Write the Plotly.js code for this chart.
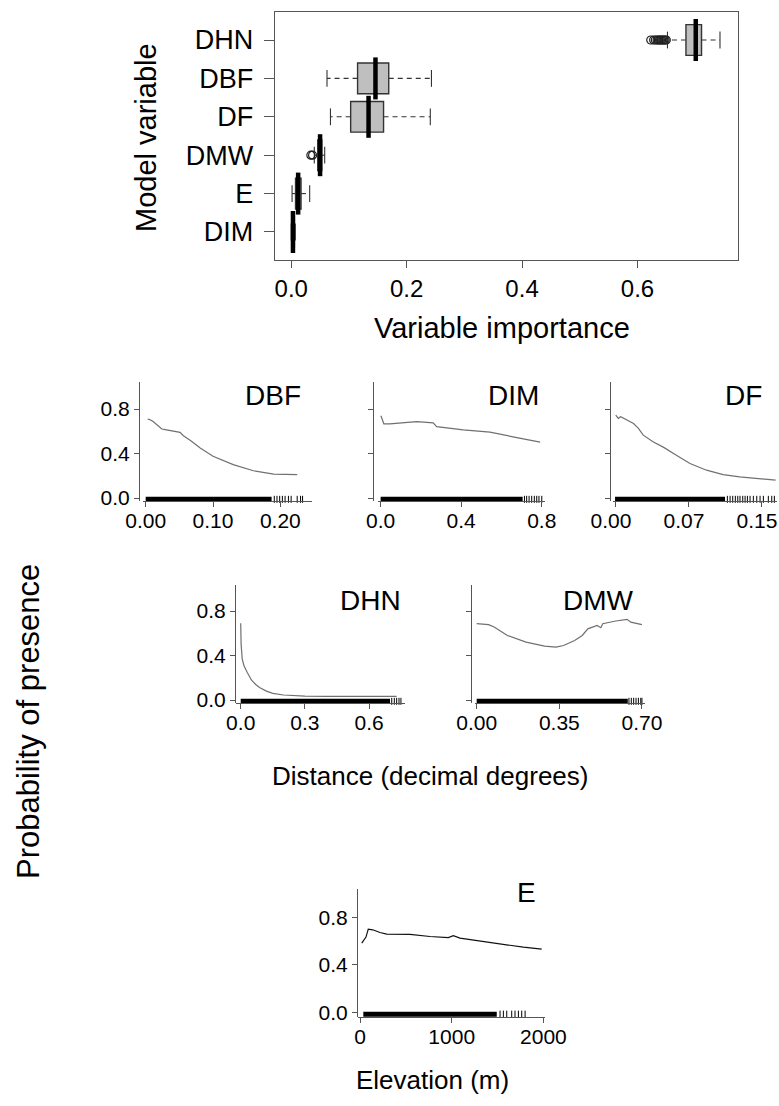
<!DOCTYPE html>
<html>
<head>
<meta charset="utf-8">
<script src="https://cdn.plot.ly/plotly-3.0.1.min.js"></script>
<style>html,body{margin:0;padding:0;background:#fff;}#chart{width:779px;height:1106px;}</style>
</head>
<body>
<div id="chart"></div>
<script>
// ---------- Variable importance (box plot) ----------
const boxVars = ['DHN', 'DBF', 'DF', 'DMW', 'E', 'DIM'];
const boxQ1     = [0.684, 0.115, 0.103, 0.046, 0.0075, 0.0010];
const boxMedian = [0.701, 0.146, 0.134, 0.050, 0.0120, 0.0030];
const boxQ3     = [0.711, 0.169, 0.160, 0.053, 0.0170, 0.0055];
const boxLowW   = [0.652, 0.062, 0.068, 0.040, 0.0015, 0.0000];
const boxHighW  = [0.743, 0.243, 0.241, 0.058, 0.0320, 0.0070];
const dhnOutliers = [0.623, 0.628, 0.631, 0.634, 0.636, 0.638, 0.640, 0.642, 0.644, 0.646, 0.648, 0.650];
const dmwOutliers = [0.034, 0.037];
const boxTicks = [0, 0.2, 0.4, 0.6];
const boxTickText = ['0.0', '0.2', '0.4', '0.6'];

// ---------- Partial dependence curves ----------
const dbfX = [0.003, 0.006, 0.011, 0.024, 0.031, 0.051, 0.056, 0.066, 0.081, 0.100, 0.130, 0.160, 0.190, 0.225];
const dbfY = [0.71, 0.705, 0.687, 0.62, 0.612, 0.59, 0.56, 0.52, 0.45, 0.375, 0.30, 0.245, 0.215, 0.21];
const dbfRugDense = [0.0, 0.187];
const dbfRugSparse = [0.191, 0.195, 0.199, 0.203, 0.207, 0.212, 0.216, 0.225, 0.230, 0.233];

const dimX = [0.0015, 0.010, 0.016, 0.046, 0.10, 0.179, 0.261, 0.278, 0.41, 0.543, 0.676, 0.792];
const dimY = [0.74, 0.687, 0.667, 0.667, 0.675, 0.687, 0.675, 0.642, 0.613, 0.592, 0.543, 0.502];
const dimRugDense = [0.0, 0.705];
const dimRugSparse = [0.714, 0.725, 0.737, 0.750, 0.763, 0.775, 0.786, 0.800];

const dfX = [0.0007, 0.0034, 0.0058, 0.012, 0.019, 0.024, 0.029, 0.039, 0.050, 0.063, 0.077, 0.094, 0.111, 0.128, 0.146, 0.165];
const dfY = [0.746, 0.716, 0.73, 0.70, 0.67, 0.626, 0.565, 0.505, 0.455, 0.385, 0.31, 0.25, 0.21, 0.19, 0.175, 0.16];
const dfRugDense = [0.0, 0.113];
const dfRugSparse = [0.1154, 0.1182, 0.1209, 0.1236, 0.1261, 0.1284, 0.1312, 0.1336, 0.136, 0.1387, 0.1421, 0.1456, 0.149, 0.1524, 0.1575, 0.161, 0.1637];

const dhnX = [0.0, 0.002, 0.007, 0.015, 0.030, 0.050, 0.070, 0.090, 0.120, 0.150, 0.200, 0.250, 0.300, 0.400, 0.500, 0.600, 0.729];
const dhnY = [0.69, 0.50, 0.37, 0.31, 0.25, 0.18, 0.14, 0.11, 0.08, 0.06, 0.045, 0.038, 0.034, 0.033, 0.032, 0.032, 0.032];
const dhnRugDense = [0.0, 0.698];
const dhnRugSparse = [0.706, 0.718, 0.729, 0.740, 0.749];

const dmwX = [0.0, 0.050, 0.074, 0.130, 0.209, 0.288, 0.336, 0.368, 0.415, 0.447, 0.471, 0.510, 0.526, 0.534, 0.589, 0.637, 0.653, 0.700];
const dmwY = [0.686, 0.677, 0.656, 0.58, 0.52, 0.484, 0.475, 0.49, 0.535, 0.58, 0.64, 0.67, 0.65, 0.686, 0.71, 0.725, 0.70, 0.677];
const dmwRugDense = [0.0, 0.640];
const dmwRugSparse = [0.645, 0.655, 0.665, 0.675, 0.685, 0.695, 0.700];

const eX = [19, 65, 90, 138, 218, 291, 545, 763, 963, 1017, 1090, 1418, 1781, 1981];
const eY = [0.583, 0.634, 0.70, 0.695, 0.672, 0.659, 0.656, 0.639, 0.63, 0.645, 0.625, 0.588, 0.549, 0.533];
const eRugDense = [36, 1491];
const eRugSparse = [1527, 1563, 1600, 1654, 1690, 1727, 1763, 1800];

const probTicks = [0, 0.4, 0.8];
const probTickText = ['0.0', '0.4', '0.8'];

// ---------- Layout helpers ----------
const W = 779, H = 1106;
const FAM = 'Liberation Sans, Arial, Helvetica, sans-serif';
const fx = p => p / W;
const fy = p => 1 - p / H;
const AXC = '#555';

const traces = [];
const layout = {
  width: W, height: H,
  margin: {l: 0, r: 0, t: 0, b: 0},
  paper_bgcolor: '#fff', plot_bgcolor: 'rgba(0,0,0,0)',
  showlegend: false,
  font: {family: FAM, color: '#000'},
  annotations: []
};

// Box plot
const boxPos = boxVars.map((_, i) => boxVars.length - 1 - i);
traces.push({
  type: 'box', orientation: 'h', xaxis: 'x', yaxis: 'y',
  y: boxPos, q1: boxQ1, median: boxMedian, q3: boxQ3,
  lowerfence: boxQ1, upperfence: boxQ3,
  width: 0.8, whiskerwidth: 0, boxpoints: false,
  fillcolor: '#bfbfbf', line: {color: '#333', width: 1.4},
  hoverinfo: 'skip'
});
const wx = [], wy = [];
boxPos.forEach((p, i) => {
  wx.push(boxQ1[i], boxLowW[i], null, boxQ3[i], boxHighW[i], null);
  wy.push(p, p, null, p, p, null);
});
traces.push({type: 'scatter', mode: 'lines', x: wx, y: wy, xaxis: 'x', yaxis: 'y',
  line: {color: '#333', width: 1.1, dash: '5px,4px'}, hoverinfo: 'skip'});
traces.push({type: 'scatter', mode: 'markers', x: boxLowW.concat(boxHighW), y: boxPos.concat(boxPos),
  xaxis: 'x', yaxis: 'y', cliponaxis: false,
  marker: {symbol: 'line-ns', size: 12, line: {width: 1.1, color: '#333'}}, hoverinfo: 'skip'});
traces.push({type: 'scatter', mode: 'markers', x: boxMedian, y: boxPos, xaxis: 'x', yaxis: 'y',
  marker: {symbol: 'line-ns', size: 30, line: {width: 4.5, color: '#000'}}, hoverinfo: 'skip'});
traces.push({type: 'scatter', mode: 'markers', x: dhnOutliers, y: dhnOutliers.map(() => boxPos[0]),
  xaxis: 'x', yaxis: 'y', marker: {symbol: 'circle-open', size: 8, line: {width: 1.2}, color: '#222'}, hoverinfo: 'skip'});
traces.push({type: 'scatter', mode: 'markers', x: dmwOutliers, y: dmwOutliers.map(() => boxPos[3]),
  xaxis: 'x', yaxis: 'y', marker: {symbol: 'circle-open', size: 8, line: {width: 1.2}, color: '#222'}, hoverinfo: 'skip'});

layout.xaxis = {
  domain: [fx(275), fx(738)], range: [-0.0281, 0.7742], anchor: 'y',
  tickvals: boxTicks, ticktext: boxTickText, ticks: 'outside', ticklen: 7, tickcolor: AXC,
  showline: true, mirror: true, linecolor: AXC, linewidth: 1.4,
  showgrid: false, zeroline: false, tickfont: {size: 24, family: FAM}
};
layout.yaxis = {
  domain: [fy(260), fy(12)], range: [-0.73, 5.73], anchor: 'x',
  tickvals: boxPos, ticktext: boxVars, ticks: 'outside', ticklen: 10, tickcolor: AXC,
  ticklabelstandoff: 5,
  showline: true, mirror: true, linecolor: AXC, linewidth: 1.4,
  showgrid: false, zeroline: false, tickfont: {size: 27, family: FAM}
};

// Partial dependence panels
const panels = [
  {name: 'DBF', x: dbfX, y: dbfY, dense: dbfRugDense, sparse: dbfRugSparse, color: '#707070',
   yAxisX: 139, xDom: [143, 312], yDom: [382, 501], xRange: [-0.004, 0.247], yRange: [-0.027, 1.043],
   xt: [0, 0.1, 0.2], xtt: ['0.00', '0.10', '0.20'], ylab: true, tRight: 303, tY: 395, shift: 0},
  {name: 'DIM', x: dimX, y: dimY, dense: dimRugDense, sparse: dimRugSparse, color: '#707070',
   yAxisX: 373, xDom: [378, 545], yDom: [382, 501], xRange: [-0.013, 0.816], yRange: [-0.027, 1.043],
   xt: [0, 0.4, 0.8], xtt: ['0.0', '0.4', '0.8'], ylab: false, tRight: 541, tY: 395, shift: 0},
  {name: 'DF', x: dfX, y: dfY, dense: dfRugDense, sparse: dfRugSparse, color: '#707070',
   yAxisX: 610, xDom: [613, 777], yDom: [382, 501], xRange: [-0.0021, 0.1664], yRange: [-0.027, 1.043],
   xt: [0, 0.075, 0.15], xtt: ['0.00', '0.07', '0.15'], ylab: false, tRight: 764, tY: 395, shift: -4},
  {name: 'DHN', x: dhnX, y: dhnY, dense: dhnRugDense, sparse: dhnRugSparse, color: '#707070',
   yAxisX: 235, xDom: [236, 405], yDom: [585, 703], xRange: [-0.022, 0.768], yRange: [-0.027, 1.034],
   xt: [0, 0.3, 0.6], xtt: ['0.0', '0.3', '0.6'], ylab: true, tRight: 403, tY: 600, shift: 0},
  {name: 'DMW', x: dmwX, y: dmwY, dense: dmwRugDense, sparse: dmwRugSparse, color: '#707070',
   yAxisX: 471, xDom: [475, 645], yDom: [585, 703], xRange: [-0.0072, 0.713], yRange: [-0.027, 1.034],
   xt: [0, 0.35, 0.7], xtt: ['0.00', '0.35', '0.70'], ylab: false, tRight: 636, tY: 600, shift: 0},
  {name: 'E', x: eX, y: eY, dense: eRugDense, sparse: eRugSparse, color: '#111',
   yAxisX: 357, xDom: [358, 545], yDom: [889, 1017], xRange: [-22, 2017], yRange: [-0.036, 1.037],
   xt: [0, 1000, 2000], xtt: ['0', '1000', '2000'], ylab: true, tRight: 538, tY: 892, shift: 0}
];

const RUG_Y = -0.012;
panels.forEach((p, i) => {
  const n = i + 2;
  const xa = 'x' + n, ya = 'y' + n;
  traces.push({type: 'scatter', mode: 'lines', x: p.dense, y: p.dense.map(() => RUG_Y),
    xaxis: xa, yaxis: ya, line: {color: '#000', width: 5}, hoverinfo: 'skip'});
  traces.push({type: 'scatter', mode: 'markers', x: p.sparse, y: p.sparse.map(() => RUG_Y),
    xaxis: xa, yaxis: ya, cliponaxis: false,
    marker: {symbol: 'line-ns', size: 5, line: {width: 1, color: '#000'}}, hoverinfo: 'skip'});
  traces.push({type: 'scatter', mode: 'lines', x: p.x, y: p.y, xaxis: xa, yaxis: ya,
    line: {color: p.color, width: 1.2}, hoverinfo: 'skip'});

  layout['xaxis' + n] = {
    domain: [fx(p.xDom[0]), fx(p.xDom[1])], range: p.xRange, anchor: ya,
    tickvals: p.xt, ticktext: p.xtt, ticks: 'outside', ticklen: 5, tickcolor: AXC,
    ticklabelstandoff: -4, ticklabelshift: p.shift, ticklabeloverflow: 'allow',
    showline: true, linecolor: AXC, linewidth: 1.2, showgrid: false, zeroline: false,
    tickfont: {size: 21, family: FAM}
  };
  layout['yaxis' + n] = {
    domain: [fy(p.yDom[1]), fy(p.yDom[0])], range: p.yRange, anchor: 'free', position: fx(p.yAxisX),
    tickvals: probTicks, ticktext: probTickText, showticklabels: p.ylab,
    ticks: 'outside', ticklen: 5, tickcolor: AXC,
    showline: true, linecolor: AXC, linewidth: 1.2, showgrid: false, zeroline: false,
    tickfont: {size: 21, family: FAM}
  };
  layout.annotations.push({text: p.name, xref: 'paper', yref: 'paper',
    x: fx(p.tRight), y: fy(p.tY), xanchor: 'right', yanchor: 'middle',
    showarrow: false, font: {size: 28, family: FAM, color: '#000'}});
});

// Axis titles
const titles = [
  {text: 'Model variable', x: 146, y: 138, angle: -90, size: 29},
  {text: 'Variable importance', x: 502, y: 328, angle: 0, size: 29},
  {text: 'Probability of presence', x: 28, y: 722, angle: -90, size: 31},
  {text: 'Distance (decimal degrees)', x: 430, y: 776, angle: 0, size: 26},
  {text: 'Elevation (m)', x: 432, y: 1080, angle: 0, size: 26}
];
titles.forEach(t => layout.annotations.push({
  text: t.text, xref: 'paper', yref: 'paper', x: fx(t.x), y: fy(t.y),
  xanchor: 'center', yanchor: 'middle', textangle: t.angle, showarrow: false,
  font: {size: t.size, family: FAM, color: '#000'}
}));

Plotly.newPlot('chart', traces, layout, {staticPlot: true, displayModeBar: false});
</script>
</body>
</html>
